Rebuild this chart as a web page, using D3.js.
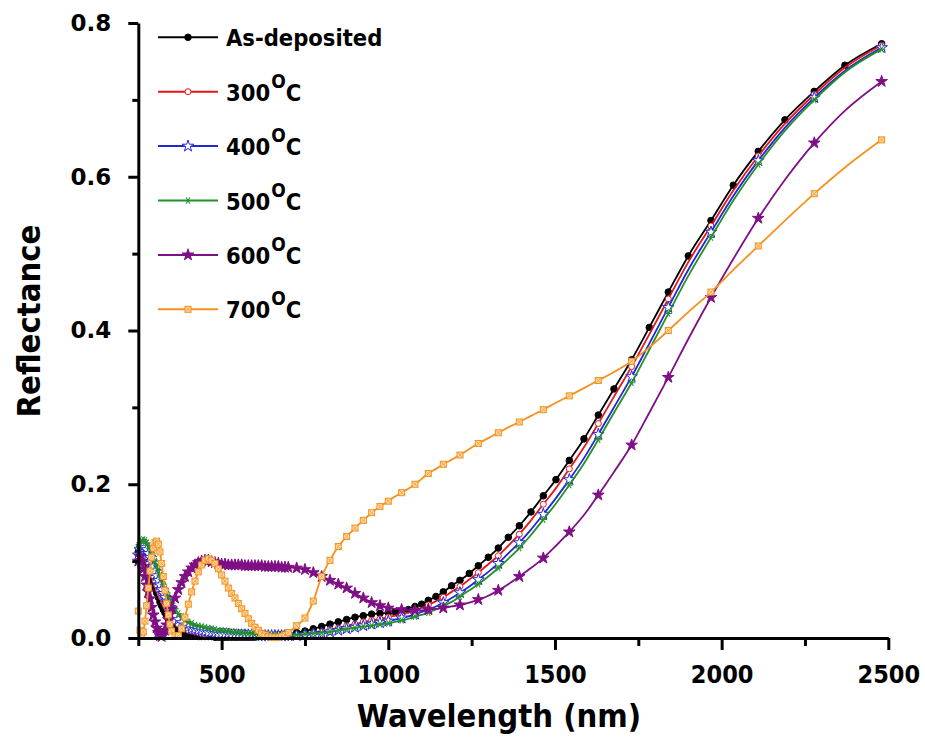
<!DOCTYPE html>
<html>
<head>
<meta charset="utf-8">
<script src="https://cdn.jsdelivr.net/npm/d3@7"></script>
<style>
    body { margin: 0; background: #fff; }
    svg text { font-family: "DejaVu Sans", sans-serif; font-weight: bold; fill: #000; }
    svg .cond { font-family: "DejaVu Sans Condensed", "DejaVu Sans", sans-serif; font-stretch: condensed; }
</style>
</head>
<body>
<div id="chart"></div>
<script>

// wavelength (nm) of the plotted points
const wavelength = [
    250, 255, 260, 265, 270, 275, 280, 285, 290, 295,
    300, 305, 310, 315, 320, 325, 330, 335, 340, 345,
    350, 360, 370, 380, 390, 400, 410, 420, 430, 440,
    450, 460, 470, 480, 490, 500, 510, 520, 530, 540,
    550, 560, 570, 580, 590, 600, 610, 620, 630, 640,
    650, 660, 670, 680, 690, 700, 725, 750, 775, 800,
    825, 850, 875, 900, 925, 950, 975, 1000, 1020, 1040,
    1060, 1080, 1100, 1120, 1143, 1165, 1190, 1215, 1243, 1270,
    1300, 1330, 1360, 1393, 1428, 1465, 1503, 1543, 1587, 1630,
    1677, 1730, 1783, 1840, 1900, 1968, 2035, 2110, 2190, 2278,
    2370, 2480
];

const asDeposited = [
    0.112, 0.118, 0.116, 0.111, 0.105, 0.099, 0.092, 0.085, 0.078, 0.071,
    0.065, 0.059, 0.053, 0.047, 0.042, 0.037, 0.033, 0.029, 0.025, 0.022,
    0.019, 0.014, 0.010, 0.007, 0.005, 0.004, 0.003, 0.003, 0.002, 0.002,
    0.002, 0.002, 0.002, 0.001, 0.001, 0.001, 0.001, 0.001, 0.001, 0.001,
    0.001, 0.001, 0.001, 0.001, 0.001, 0.001, 0.002, 0.002, 0.002, 0.003,
    0.003, 0.003, 0.004, 0.004, 0.005, 0.005, 0.007, 0.009, 0.012, 0.015,
    0.018, 0.021, 0.024, 0.027, 0.029, 0.031, 0.032, 0.033, 0.034, 0.035,
    0.037, 0.041, 0.044, 0.049, 0.054, 0.060, 0.068, 0.075, 0.084, 0.094,
    0.105, 0.117, 0.131, 0.146, 0.164, 0.185, 0.206, 0.231, 0.259, 0.290,
    0.324, 0.362, 0.404, 0.450, 0.497, 0.543, 0.589, 0.633, 0.674, 0.711,
    0.745, 0.773
];

const t300 = [
    0.104, 0.111, 0.115, 0.114, 0.110, 0.105, 0.099, 0.093, 0.087, 0.081,
    0.075, 0.069, 0.063, 0.058, 0.053, 0.048, 0.043, 0.039, 0.035, 0.031,
    0.028, 0.022, 0.018, 0.014, 0.012, 0.010, 0.009, 0.008, 0.007, 0.006,
    0.005, 0.005, 0.004, 0.004, 0.004, 0.004, 0.003, 0.003, 0.003, 0.003,
    0.003, 0.003, 0.002, 0.002, 0.002, 0.002, 0.002, 0.002, 0.002, 0.002,
    0.002, 0.002, 0.002, 0.002, 0.002, 0.002, 0.003, 0.004, 0.006, 0.008,
    0.011, 0.013, 0.016, 0.018, 0.021, 0.023, 0.025, 0.027, 0.029, 0.031,
    0.033, 0.036, 0.039, 0.043, 0.048, 0.053, 0.060, 0.067, 0.076, 0.085,
    0.096, 0.107, 0.120, 0.135, 0.153, 0.174, 0.195, 0.220, 0.248, 0.279,
    0.314, 0.353, 0.395, 0.441, 0.489, 0.536, 0.582, 0.627, 0.669, 0.707,
    0.742, 0.771
];

const t400 = [
    0.108, 0.115, 0.119, 0.120, 0.118, 0.115, 0.110, 0.105, 0.099, 0.093,
    0.087, 0.081, 0.075, 0.069, 0.063, 0.058, 0.053, 0.048, 0.044, 0.040,
    0.036, 0.029, 0.024, 0.020, 0.017, 0.014, 0.012, 0.011, 0.010, 0.009,
    0.008, 0.007, 0.007, 0.006, 0.005, 0.005, 0.005, 0.005, 0.004, 0.004,
    0.004, 0.004, 0.004, 0.004, 0.004, 0.004, 0.003, 0.003, 0.003, 0.003,
    0.003, 0.003, 0.003, 0.003, 0.003, 0.003, 0.003, 0.004, 0.005, 0.006,
    0.008, 0.010, 0.012, 0.014, 0.016, 0.018, 0.020, 0.022, 0.024, 0.026,
    0.028, 0.031, 0.034, 0.037, 0.041, 0.046, 0.052, 0.059, 0.067, 0.076,
    0.086, 0.097, 0.110, 0.124, 0.141, 0.161, 0.182, 0.206, 0.234, 0.265,
    0.300, 0.340, 0.383, 0.430, 0.479, 0.528, 0.575, 0.621, 0.664, 0.703,
    0.738, 0.768
];

const t500 = [
    0.118, 0.124, 0.127, 0.128, 0.127, 0.124, 0.120, 0.116, 0.111, 0.106,
    0.100, 0.094, 0.088, 0.082, 0.076, 0.070, 0.064, 0.059, 0.054, 0.049,
    0.045, 0.038, 0.032, 0.028, 0.024, 0.021, 0.019, 0.017, 0.016, 0.015,
    0.014, 0.013, 0.012, 0.011, 0.010, 0.010, 0.009, 0.009, 0.008, 0.008,
    0.007, 0.007, 0.006, 0.006, 0.006, 0.005, 0.005, 0.005, 0.005, 0.004,
    0.004, 0.004, 0.004, 0.004, 0.004, 0.004, 0.004, 0.005, 0.006, 0.007,
    0.008, 0.010, 0.012, 0.013, 0.015, 0.016, 0.018, 0.019, 0.021, 0.023,
    0.025, 0.028, 0.030, 0.033, 0.037, 0.042, 0.047, 0.054, 0.062, 0.070,
    0.080, 0.091, 0.103, 0.117, 0.134, 0.154, 0.175, 0.199, 0.227, 0.258,
    0.293, 0.332, 0.375, 0.422, 0.471, 0.521, 0.569, 0.616, 0.660, 0.700,
    0.736, 0.766
];

const t600 = [
    0.100, 0.106, 0.100, 0.090, 0.080, 0.069, 0.060, 0.051, 0.040, 0.030,
    0.021, 0.013, 0.007, 0.003, 0.002, 0.004, 0.010, 0.017, 0.024, 0.031,
    0.038, 0.052, 0.063, 0.072, 0.080, 0.086, 0.091, 0.095, 0.098, 0.100,
    0.101, 0.101, 0.099, 0.098, 0.097, 0.096, 0.096, 0.095, 0.095, 0.095,
    0.095, 0.095, 0.094, 0.094, 0.094, 0.094, 0.094, 0.094, 0.093, 0.093,
    0.093, 0.093, 0.093, 0.092, 0.092, 0.092, 0.091, 0.089, 0.085, 0.080,
    0.075, 0.070, 0.065, 0.058, 0.052, 0.046, 0.042, 0.039, 0.038, 0.037,
    0.036, 0.036, 0.036, 0.037, 0.038, 0.039, 0.041, 0.043, 0.046, 0.050,
    0.055, 0.062, 0.070, 0.080, 0.091, 0.104, 0.120, 0.138, 0.160, 0.186,
    0.216, 0.251, 0.293, 0.339, 0.389, 0.443, 0.493, 0.546, 0.596, 0.644,
    0.686, 0.724
];

const t700 = [
    0.035, 0.010, 0.004, 0.008, 0.022, 0.042, 0.065, 0.087, 0.105, 0.117,
    0.124, 0.126, 0.122, 0.112, 0.097, 0.080, 0.062, 0.045, 0.030, 0.018,
    0.009, 0.003, 0.003, 0.012, 0.027, 0.044, 0.060, 0.074, 0.086, 0.095,
    0.101, 0.103, 0.101, 0.097, 0.090, 0.082, 0.074, 0.065, 0.058, 0.052,
    0.045, 0.038, 0.032, 0.025, 0.019, 0.014, 0.010, 0.006, 0.004, 0.002,
    0.001, 0.001, 0.001, 0.002, 0.004, 0.007, 0.016, 0.026, 0.048, 0.080,
    0.101, 0.119, 0.132, 0.143, 0.153, 0.163, 0.171, 0.178, 0.184, 0.189,
    0.194, 0.200, 0.207, 0.214, 0.220, 0.226, 0.232, 0.238, 0.246, 0.253,
    0.260, 0.267, 0.274, 0.281, 0.289, 0.297, 0.306, 0.315, 0.325, 0.335,
    0.346, 0.360, 0.378, 0.400, 0.424, 0.450, 0.479, 0.510, 0.543, 0.578,
    0.612, 0.648
];

const seriesNames = ["As-deposited", "300", "400", "500", "600", "700"];
const seriesValues = [asDeposited, t300, t400, t500, t600, t700];

const xMajorTicks = [500, 1000, 1500, 2000, 2500];
const xMinorTicks = [250, 750, 1250, 1750, 2250];
const yMajorTicks = [0.0, 0.2, 0.4, 0.6, 0.8];
const yMinorTicks = [0.1, 0.3, 0.5, 0.7];

// styles per series
const styles = [
    { color: "#000000", shape: "circle", fill: "#000000", every: 1 },
    { color: "#e3161d", shape: "circle", fill: "#ffffff", every: 2 },
    { color: "#2326d4", shape: "star", fill: "#ffffff", every: 2 },
    { color: "#24902c", shape: "asterisk", fill: "none", every: 2 },
    { color: "#7f0f86", shape: "star", fill: "#7f0f86", every: 2 },
    { color: "#f5921f", shape: "square", fill: "#fbd9a8", every: 2 }
];

const widthSvg = 925, heightSvg = 747;
const plotLeft = 138.3, plotRight = 888.3, plotTop = 23, plotBottom = 638;

const svg = d3.select("#chart").append("svg")
    .attr("width", widthSvg).attr("height", heightSvg);

const xScale = d3.scaleLinear().domain([250, 2500]).range([plotLeft, plotRight]);
const yScale = d3.scaleLinear().domain([0, 0.8]).range([plotBottom, plotTop]);

// markers become sparser in the NIR part
const sparseStart = wavelength.findIndex(w => w > 1010);

function showMarker(i, every) {
    if (i < sparseStart) return true;
    return (i - sparseStart) % every === every - 1;
}

function drawMarker(g, style, cx, cy) {
    if (style.shape === "circle") {
        g.append("circle")
            .attr("cx", cx).attr("cy", cy)
            .attr("r", style.every === 1 ? 3.3 : 3)
            .attr("fill", style.fill)
            .attr("stroke", style.color).attr("stroke-width", 1);
    } else if (style.shape === "star") {
        g.append("path")
            .attr("d", d3.symbol(d3.symbolStar, 42)())
            .attr("transform", `translate(${cx},${cy})`)
            .attr("fill", style.fill)
            .attr("stroke", style.color).attr("stroke-width", 1);
    } else if (style.shape === "asterisk") {
        g.append("path")
            .attr("d", d3.symbol(d3.symbolAsterisk, 40)())
            .attr("transform", `translate(${cx},${cy}) rotate(30)`)
            .attr("fill", "none")
            .attr("stroke", style.color).attr("stroke-width", 1);
    } else {
        g.append("rect")
            .attr("x", cx - 3).attr("y", cy - 3)
            .attr("width", 6).attr("height", 6)
            .attr("fill", style.fill)
            .attr("stroke", style.color).attr("stroke-width", 1);
        g.append("path")
            .attr("d", `M${cx - 3},${cy - 3}L${cx + 3},${cy + 3}M${cx + 3},${cy - 3}L${cx - 3},${cy + 3}`)
            .attr("stroke", style.color).attr("stroke-width", 0.7);
    }
}

const line = d3.line()
    .x(d => xScale(d[0]))
    .y(d => yScale(d[1]))
    .curve(d3.curveMonotoneX);

// series
seriesValues.forEach((values, s) => {
    const style = styles[s];
    const points = wavelength.map((w, i) => [w, values[i]]);
    const g = svg.append("g").attr("class", "series");

    g.append("path")
        .datum(points)
        .attr("d", line)
        .attr("fill", "none")
        .attr("stroke", style.color)
        .attr("stroke-width", 1.8);

    points.forEach((p, i) => {
        if (showMarker(i, style.every)) {
            drawMarker(g, style, xScale(p[0]), yScale(p[1]));
        }
    });
});

// axes
const xAxis = svg.append("g")
    .attr("transform", `translate(0, ${plotBottom})`)
    .call(d3.axisBottom(xScale).tickValues(xMajorTicks).tickSize(12).tickSizeOuter(0)
        .tickPadding(15).tickFormat(d3.format("d")));

svg.append("g")
    .attr("transform", `translate(0, ${plotBottom})`)
    .call(d3.axisBottom(xScale).tickValues(xMinorTicks).tickSize(8).tickSizeOuter(0).tickFormat(""))
    .select(".domain").remove();

const yAxis = svg.append("g")
    .attr("transform", `translate(${plotLeft}, 0)`)
    .call(d3.axisLeft(yScale).tickValues(yMajorTicks).tickSize(10).tickSizeOuter(0)
        .tickPadding(17).tickFormat(d3.format(".1f")));

svg.append("g")
    .attr("transform", `translate(${plotLeft}, 0)`)
    .call(d3.axisLeft(yScale).tickValues(yMinorTicks).tickSize(6).tickSizeOuter(0).tickFormat(""))
    .select(".domain").remove();

svg.selectAll(".domain, .tick line")
    .attr("stroke", "#000").attr("stroke-width", 3);

xAxis.selectAll("text")
    .attr("class", "cond")
    .style("font-size", "25px");

yAxis.selectAll("text")
    .style("font-size", "23px");

// axis titles
svg.append("text")
    .attr("class", "cond")
    .attr("x", 499).attr("y", 727)
    .attr("text-anchor", "middle")
    .style("font-size", "32.5px")
    .text("Wavelength (nm)");

svg.append("text")
    .attr("class", "cond")
    .attr("transform", `translate(40, 321) rotate(-90)`)
    .attr("text-anchor", "middle")
    .style("font-size", "32.5px")
    .text("Reflectance");

// legend
const legend = svg.append("g").attr("id", "legend");
const legendTop = 37.3, legendGap = 54.4;

seriesNames.forEach((name, s) => {
    const style = styles[s];
    const ly = legendTop + s * legendGap;

    legend.append("line")
        .attr("x1", 158).attr("x2", 218)
        .attr("y1", ly).attr("y2", ly)
        .attr("stroke", style.color).attr("stroke-width", 2);

    drawMarker(legend, style, 188, ly);

    const label = legend.append("text")
        .attr("class", "cond")
        .attr("x", 226).attr("y", ly + 9)
        .style("font-size", "23.5px");

    if (s === 0) {
        label.text(name);
    } else {
        label.append("tspan").text(name);
        label.append("tspan").attr("dx", 1).attr("dy", -13).style("font-size", "19px").text("O");
        label.append("tspan").attr("dy", 13).text("C");
    }
});

</script>
</body>
</html>
